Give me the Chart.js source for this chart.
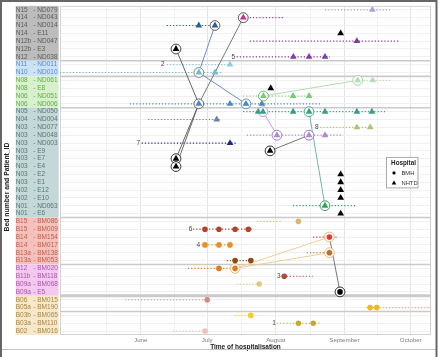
<!DOCTYPE html>
<html><head><meta charset="utf-8">
<script src="https://cdn.jsdelivr.net/npm/chart.js@4.4.1/dist/chart.umd.min.js"></script>
<style>html,body{margin:0;padding:0;background:#fff}#wrap{width:440px;height:357px;position:relative}</style>
</head><body><div id="wrap"><canvas id="c" width="440" height="357"></canvas></div>
<script>
// ---------- DATA ----------
const beds = ['N15','N14','N14','N14','N12b','N12b','N12','N11','N10','N08','N08','N06','N06','N05','N04','N03','N03','N03','N03','N03','N03','N03','N03','N02','N02','N01','N01','B15','B15','B14','B14','B13a','B13a','B12','B11b','B09a','B09a','B06','B05a','B03b','B03a','B02'];
const patientIds = ['ND079','ND043','ND014','E11','ND047','E3','ND038','ND011','ND010','ND061','E8','ND051','ND006','ND050','ND004','ND077','ND048','ND003','E9','E7','E4','E2','E1','E12','E10','ND063','E6','BM086','BM009','BM154','BM017','BM138','BM053','BM020','BM118','BM068','E5','BM015','BM190','BM065','BM110','BM016'];
// days since 1 June
const stayStart = [83.2,46.3,11.7,null,49.3,null,43.3,11.7,-36.5,97.7,null,46.2,-4.9,46.2,3.3,81,47.9,0.4,null,null,null,null,null,null,null,68.8,null,52.5,23.6,77.8,27.5,75,38.8,21.3,65.9,43.3,null,-7.1,102,42.6,61.4,14.6];
const stayEnd   = [112.6,65.1,33.5,null,117.1,null,85.5,41.7,37.1,112.6,null,77.8,81,111.2,35.8,105,91.4,43.3,null,null,null,null,null,null,null,97.7,null,63.8,50.1,89.1,41.1,85.2,50.7,43.9,77.8,52.4,null,29,131.4,49.3,81,28];
const sampleDays = [[104.6],[46.3],[26.2,33.5],[90.3],[97.6],[15.9],[68.9,76,83.2],[40.3],[26.2,33.5],[98,104.8],[58.7],[55.4,68.8,76],[26.2,40.3,47.5,54.7],[53,55.2,68.8,76,83.2,97.6,104.4],[34.3],[97.6,103.6],[61.5,76,83.2],[40.3],[58.4],[15.9],[15.9],[90.3],[90.3],[90.3],[90.3],[83.2],[90.3],[71.2],[29,35.3,42.6,48.6],[85.2],[29,35.3,40.3],[85.2],[42.6,49.7],[35.3,42.6],[64.8],[53.5],[90],[30],[103.6,106.6],[49.7],[71.2,77.9],[29]];
// circled (linked) samples: [row, day]
const ringed = [[1,46.3],[2,33.5],[5,15.9],[8,26.2],[9,98],[11,55.4],[12,26.2],[12,47.5],[13,55.2],[13,76],[16,61.5],[16,76],[18,58.4],[19,15.9],[20,15.9],[25,83.2],[29,85.2],[31,85.2],[33,42.6],[36,90]];
// transmission links: [rowA, dayA, rowB, dayB]
const links = [[5,15.9,12,26.2],[1,46.3,12,26.2],[2,33.5,8,26.2],[8,26.2,12,47.5],[12,26.2,19,15.9],[12,26.2,20,15.9],[11,55.4,9,98],[13,55.2,16,61.5],[18,58.4,16,76],[13,76,25,83.2],[33,42.6,29,85.2],[33,42.6,31,85.2],[29,85.2,36,90]];
// cluster numbers: [text, row, day]
const clusterLabels = [['1',40,60.2],['2',7,9.9],['3',34,62.4],['4',30,26],['5',6,41.8],['6',28,22.5],['7',17,-1.1],['8',15,79.5]];
// ward groups (row ranges)
const wardGroups = [[0,6],[7,8],[9,12],[13,26],[27,32],[33,36],[37,41]];
const wardBreaks = [6.5,8.5,12.5,26.5,32.5,36.5,38.5];
const monthTickDays = [0,30,61,92,122];
const monthNames = ['June','July','August','September','October'];
const minorTickDays = [-15.5,15,45.5,76.5,107];
const legendItems = ['BMH','NHTD'];

// ---------- STYLES ----------
const patientColours = ['#a4a4e0','#c0308c','#2e5e96','#000000','#7b3f9e','#000000','#7b3fa8','#8ec9e4','#72bac8','#b4dcb0','#000000','#78c878','#4a86c4','#3a9e84','#6a80aa','#aec27a','#b088d8','#1c2a8c','#000000','#000000','#000000','#000000','#000000','#000000','#000000','#34a058','#000000','#d8b878','#b8402c','#e03838','#e89028','#b87028','#8c4a14','#e07c20','#b04a3c','#e4c878','#000000','#d88484','#f0b828','#f0d028','#c8a828','#f0c0b8'];
const ringColours = ['#555','#666','#444','#888','#a8d8a0','#70c070','#666','#6a8fc8','#c0a0e0','#50a890','#a080d0','#9a78c8','#333','#333','#333','#50a070','#f0b878','#f0b878','#f0b878','#333'];
const linkColours = ['#666','#777','#6a8fc8','#6a8fc8','#666','#666','#b4dcb0','#c0a0e0','#777','#70b8a8','#f2cc98','#f2cc98','#777'];
const wardBg = ['#bcbcbc','#cfe2f5','#d9f0cf','#c3d8d7','#f4c2ba','#f4c9ef','#f7e8c9'];
const wardText = ['#5a5a5a','#4d8fd2','#5aac44','#55767a','#bf5a50','#a858a8','#a88448'];

function wardOf(r){ return wardGroups.findIndex(g => r >= g[0] && r <= g[1]); }
const FONT = "'Liberation Sans', Arial, sans-serif";

// ---------- DATASETS ----------
const datasets = [];
beds.forEach((b, r) => {
  if (stayStart[r] !== null) {
    datasets.push({data:[{x:stayStart[r],y:r},{x:stayEnd[r],y:r}], showLine:true, borderColor:patientColours[r], borderWidth:1.2, borderDash:[1.2,2], pointRadius:0, order:6});
  }
});
links.forEach((l, i) => {
  datasets.push({data:[{x:l[1],y:l[0]},{x:l[3],y:l[2]}], showLine:true, borderColor:linkColours[i], borderWidth:1, pointRadius:0, order:5});
});
datasets.push({data: ringed.map(p => ({x:p[1], y:p[0]})), pointStyle:'circle', pointRadius:4.9, backgroundColor:'rgba(255,255,255,0.85)', borderColor:ringColours, borderWidth:1, order:4});
beds.forEach((b, r) => {
  const nhtd = b.charAt(0) === 'N';
  datasets.push({data: sampleDays[r].map(d => ({x:d, y:r})), pointStyle: nhtd ? 'triangle' : 'circle', pointRadius: nhtd ? 3.9 : 2.8, backgroundColor: patientColours[r], borderColor: patientColours[r], borderWidth: 0, order:1});
});

// ---------- PLUGIN ----------
const decor = {
  id:'decor',
  beforeDraw(chart){
    const {ctx, scales} = chart;
    const yB = scales.yBed, y = scales.y;
    ctx.save();
    ctx.fillStyle = '#fff'; ctx.fillRect(0,0,chart.width,chart.height);
    wardGroups.forEach((g,i) => {
      const t = y.getPixelForValue(g[0]-0.5), bt = y.getPixelForValue(g[1]+0.5);
      ctx.fillStyle = wardBg[i];
      ctx.fillRect(yB.left, t, y.right - yB.left - 1.3, bt - t);
    });
    ctx.restore();
  },
  beforeDatasetsDraw(chart){
    const {ctx, chartArea:a, scales:{y}} = chart;
    ctx.save();
    ctx.strokeStyle = '#d2d2d2'; ctx.lineWidth = 1;
    ctx.strokeRect(a.left+0.5, a.top+0.5, a.right-a.left-1, a.bottom-a.top-1);
    wardBreaks.forEach(v => {
      const py = y.getPixelForValue(v);
      ctx.strokeStyle = '#cacaca'; ctx.lineWidth = v === 36.5 ? 3 : 1.6;
      ctx.beginPath(); ctx.moveTo(a.left, py); ctx.lineTo(a.right, py); ctx.stroke();
    });
    ctx.restore();
  },
  afterDatasetsDraw(chart){
    const {ctx, chartArea:a, scales:{x, y}} = chart;
    ctx.save();
    // cluster numbers
    ctx.fillStyle = '#444'; ctx.font = '6.5px ' + FONT; ctx.textAlign = 'center'; ctx.textBaseline = 'middle';
    clusterLabels.forEach(c => ctx.fillText(c[0], x.getPixelForValue(c[2]), y.getPixelForValue(c[1])));
    // legend
    const lx = a.right - 45, ly = a.top + 151;
    ctx.fillStyle = '#fff'; ctx.fillRect(lx, ly, 32, 31);
    ctx.strokeStyle = '#a8a8a8'; ctx.lineWidth = 1; ctx.strokeRect(lx+0.5, ly+0.5, 31.5, 30.5);
    ctx.fillStyle = '#222'; ctx.font = 'bold 6.3px ' + FONT; ctx.textAlign = 'center';
    ctx.fillText('Hospital', lx + 17.5, ly + 6);
    ctx.font = '5.8px ' + FONT; ctx.textAlign = 'left'; ctx.fillStyle = '#333';
    legendItems.forEach((t, i) => {
      const cy = ly + 16 + i*10, cx = lx + 8;
      ctx.fillStyle = '#000';
      ctx.beginPath();
      if (t === 'BMH') { ctx.arc(cx, cy, 1.6, 0, Math.PI*2); }
      else { ctx.moveTo(cx, cy-2.3); ctx.lineTo(cx+2.3, cy+1.6); ctx.lineTo(cx-2.3, cy+1.6); ctx.closePath(); }
      ctx.fill();
      ctx.fillStyle = '#333';
      ctx.fillText(t, lx + 15.5, cy);
    });
    ctx.restore();
  },
  afterDraw(chart){
    const {ctx} = chart;
    ctx.save();
    // y axis title
    ctx.translate(7.6, 187); ctx.rotate(-Math.PI/2);
    ctx.fillStyle = '#1a1a1a'; ctx.font = 'bold 6.8px ' + FONT; ctx.textAlign = 'center'; ctx.textBaseline = 'middle';
    ctx.fillText('Bed number and Patient_ID', 0, 0);
    ctx.restore();
    ctx.save();
    ctx.strokeStyle = '#c4c4c4'; ctx.lineWidth = 1;
    ctx.beginPath(); ctx.moveTo(0, 349.5); ctx.lineTo(437, 349.5); ctx.stroke();
    ctx.strokeStyle = '#666'; ctx.lineWidth = 2;
    ctx.beginPath(); ctx.moveTo(1, 357); ctx.lineTo(1, 1); ctx.lineTo(436.5, 1); ctx.lineTo(436.5, 357); ctx.stroke();
    ctx.restore();
  }
};

const yTickFont = {size:6.5, family:FONT};
new Chart(document.getElementById('c'), {
  type:'scatter',
  data:{datasets},
  plugins:[decor],
  options:{
    responsive:false, animation:false, devicePixelRatio:1,
    layout:{padding:{left:15.7, top:4, right:9, bottom:0}},
    plugins:{legend:{display:false}, tooltip:{enabled:false}},
    scales:{
      x:{type:'linear', position:'bottom', min:-36.5, max:131.1, bounds:'data',
        afterBuildTicks: s => { s.ticks = monthTickDays.concat(minorTickDays).sort((p,q)=>p-q).map(v => ({value:v})); },
        afterFit: s => { s.height = 22; },
        ticks:{autoSkip:false, maxRotation:0, padding:2, color:'#7a7a7a', font:{size:6.2, family:FONT},
          callback: v => { const i = monthTickDays.indexOf(v); return i >= 0 ? monthNames[i] : ''; }},
        grid:{drawTicks:false, lineWidth:1, color: c => (c.tick && monthTickDays.indexOf(c.tick.value) >= 0) ? '#e4e4e4' : '#f1f1f1'},
        border:{display:false},
        title:{display:true, text:'Time of hospitalisation', color:'#1a1a1a', font:{size:6.5, weight:'bold', family:FONT}, padding:{top:0, bottom:5.6}}
      },
      y:{type:'linear', position:'left', weight:1, reverse:true, min:-0.5, max:41.5, bounds:'data',
        afterBuildTicks: s => { s.ticks = beds.map((b,i) => ({value:i})); },
        afterFit: s => { s.width = 26.7; },
        ticks:{autoSkip:false, crossAlign:'far', padding:0, font:yTickFont,
          color: c => wardText[wardOf(c.tick.value)],
          callback: v => '- ' + patientIds[v]},
        grid:{drawTicks:false, color:'#f0f0f0', lineWidth:1},
        border:{display:false}
      },
      yBed:{type:'linear', position:'left', weight:2, reverse:true, min:-0.5, max:41.5, bounds:'data',
        afterBuildTicks: s => { s.ticks = beds.map((b,i) => ({value:i})); },
        afterFit: s => { s.width = 17.6; },
        ticks:{autoSkip:false, crossAlign:'far', padding:0, font:yTickFont,
          color: c => wardText[wardOf(c.tick.value)],
          callback: v => beds[v]},
        grid:{display:false, drawTicks:false},
        border:{display:false}
      }
    }
  }
});
</script>
</body></html>
